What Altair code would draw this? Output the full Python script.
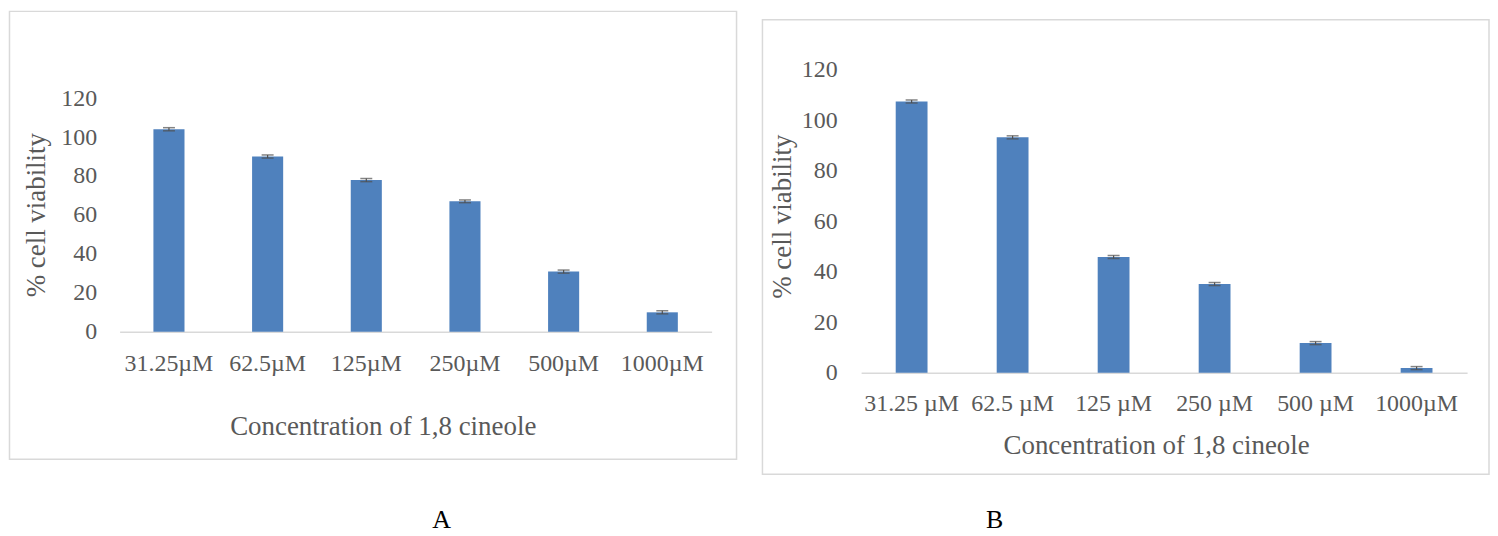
import altair as alt
import pandas as pd

# ---- data ----
labels_a = ["31.25µM", "62.5µM", "125µM", "250µM", "500µM", "1000µM"]
values_a = [104.0, 90.0, 77.9, 67.0, 30.9, 10.0]
errors_a = [0.8, 0.8, 0.8, 0.7, 0.8, 0.8]

labels_b = ["31.25 µM", "62.5 µM", "125 µM", "250 µM", "500 µM", "1000µM"]
values_b = [107.4, 93.2, 45.8, 35.1, 11.7, 1.8]
errors_b = [0.6, 0.6, 0.6, 0.6, 0.6, 0.6]

y_ticks = [0, 20, 40, 60, 80, 100, 120]
x_title = "Concentration of 1,8 cineole"
y_title = "% cell viability"
panel_letters = ["A", "B"]

# ---- styling ----
FONT = "Liberation Serif"
TEXT = "#595959"
BAR = "#4f81bd"
ERR = "#505050"
FRAME = "#d9d9d9"


def panel(labels, values, errors, width, height, yrange, xlab_pad, ylab_pad,
          xtitle_xy, ytitle_xy, frame, letter, letter_xy):
    df = pd.DataFrame({
        "conc": labels,
        "v": values,
        "lo": [v - e for v, e in zip(values, errors)],
        "hi": [v + e for v, e in zip(values, errors)],
    })
    xaxis = alt.Axis(
        title=x_title, labelAngle=0, ticks=False, domainColor=FRAME, domainWidth=1.5,
        labelFont=FONT, labelFontSize=24, labelColor=TEXT, labelPadding=xlab_pad,
        titleFont=FONT, titleFontSize=27, titleFontWeight="normal", titleColor=TEXT,
        titleX=xtitle_xy[0], titleY=xtitle_xy[1], titleBaseline="middle", titleAlign="center",
    )
    yaxis = alt.Axis(
        title=y_title, values=y_ticks, domain=False, ticks=False, grid=False,
        labelFont=FONT, labelFontSize=24, labelColor=TEXT, labelPadding=ylab_pad,
        titleFont=FONT, titleFontSize=27, titleFontWeight="normal", titleColor=TEXT,
        titleX=ytitle_xy[0], titleY=ytitle_xy[1], titleBaseline="middle", titleAlign="center",
    )
    xs = alt.Scale(paddingInner=0.685, paddingOuter=0.3425)
    ys = alt.Scale(domain=[0, 120], range=yrange)

    def X():
        return alt.X("conc:N", sort=labels, scale=xs, axis=xaxis)

    def Y(field):
        return alt.Y(field, scale=ys, axis=yaxis, title=y_title)

    base = alt.Chart(df)
    bars = base.mark_bar(color=BAR).encode(x=X(), y=Y("v:Q"))
    rule = base.mark_rule(color=ERR, strokeWidth=1.2).encode(x=X(), y=Y("lo:Q"), y2="hi:Q")
    cap_lo = base.mark_tick(color=ERR, size=12, thickness=1.5).encode(x=X(), y=Y("lo:Q"))
    cap_hi = base.mark_tick(color=ERR, size=12, thickness=1.5).encode(x=X(), y=Y("hi:Q"))

    one = alt.Chart(pd.DataFrame({"k": [0]}))
    box = one.mark_rect(fillOpacity=0, stroke=FRAME, strokeWidth=1.5).encode(
        x=alt.value(frame[0]), x2=alt.value(frame[1]),
        y=alt.value(frame[2]), y2=alt.value(frame[3]),
    )
    let = one.mark_text(font=FONT, fontSize=26, color="black", baseline="middle", align="center").encode(
        x=alt.value(letter_xy[0]), y=alt.value(letter_xy[1]), text=alt.value(letter)
    )
    return alt.layer(box, bars, rule, cap_lo, cap_hi, let).properties(width=width, height=height)


pa = panel(labels_a, values_a, errors_a, 594, 263, [263, 28.5], 20, 23,
           (264, 95), (-83, 145.5), (-110.5, 619, -58.5, 391), panel_letters[0], (323, 452))
pb = panel(labels_b, values_b, errors_b, 608, 304, [304, 0], 18.5, 24,
           (296, 73), (-79, 147), (-99, 630, -50, 406), panel_letters[1], (134, 452))

chart = alt.hconcat(pa, pb, spacing=150, bounds="flush").properties(
    padding={"left": 0, "top": 1, "right": 0, "bottom": 0},
    background="white",
).configure_view(strokeWidth=0)

chart.save("out.html", embed_options={"renderer": "svg", "actions": False})
